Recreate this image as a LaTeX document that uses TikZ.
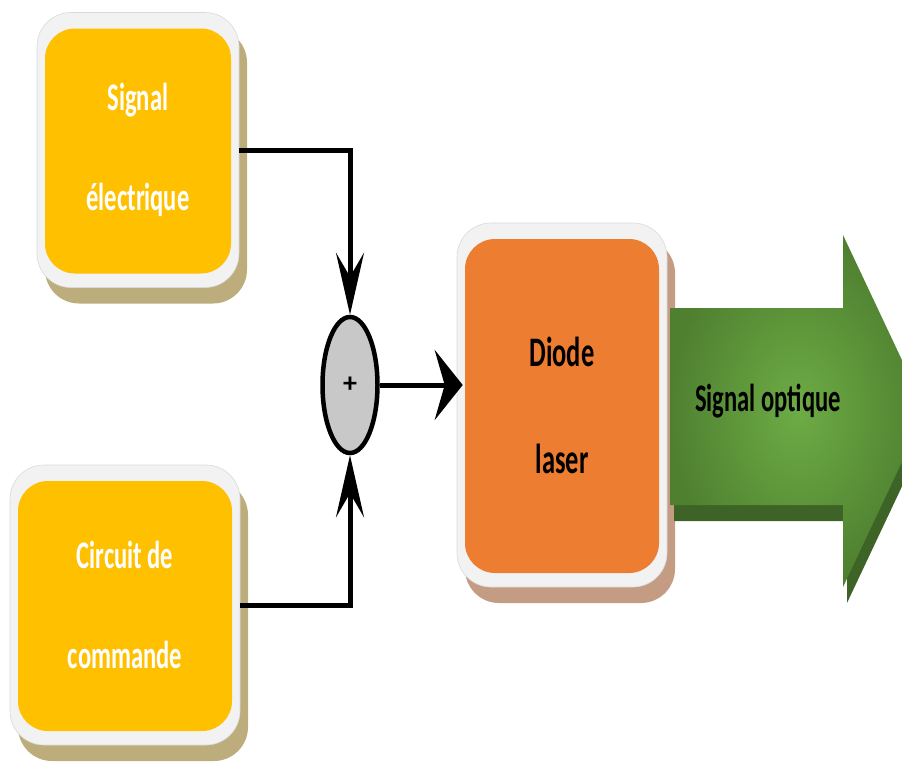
\documentclass[tikz,border=0pt]{standalone}
\usepackage{fontspec}
\setmainfont{Carlito}
\newfontfamily\condfont{Carlito}[FakeStretch=0.63]
\usetikzlibrary{arrows.meta,shapes.geometric,shadows}
\definecolor{boxyellow}{HTML}{FFC000}
\definecolor{boxorange}{HTML}{ED7D31}
\definecolor{rimwhite}{HTML}{F2F2F2}
\definecolor{tanshadow}{HTML}{BDAD7C}
\definecolor{brownshadow}{HTML}{C49C84}
\definecolor{greenlight}{HTML}{6DAC45}
\definecolor{greendark}{HTML}{4F8030}
\definecolor{greenshadow}{HTML}{3D6426}
\definecolor{sumgray}{HTML}{C8C8C8}
\tikzset{
  outerbox/.style 2 args={draw=gray!30, line width=0.6pt, fill=rimwhite,
    rounded corners=34pt, inner sep=0pt,
    drop shadow={shadow xshift=8pt, shadow yshift=-16pt, fill=#2, opacity=1},
    path picture={\fill[#1, rounded corners=30pt]
      ([shift={(8,16)}]path picture bounding box.north west) rectangle
      ([shift={(-8,-14)}]path picture bounding box.south east);}},
  whitetext/.style={text=white, align=center,
    font=\condfont\bfseries\fontsize{39}{100}\selectfont},
  blacktext/.style={text=black, align=center,
    font=\condfont\bfseries\fontsize{42}{107}\selectfont},
  conn/.style={line width=5pt, black},
  vtip/.style={-{Stealth[length=62pt, width=28pt, inset=24pt]}},
  htip/.style={-{Stealth[length=28pt, width=70pt, inset=10pt]}},
  sumnode/.style={ellipse, draw=black, line width=4.5pt, fill=sumgray,
    minimum width=55pt, minimum height=136pt, inner sep=0pt,
    font=\bfseries\fontsize{28}{28}\selectfont}
}
\begin{document}
\begin{tikzpicture}[x=1pt,y=-1pt]
\path[use as bounding box] (0,0) rectangle (902,763);
\clip (0,0) rectangle (902,763);

% top box
\node[outerbox={boxyellow}{tanshadow}, whitetext, minimum width=202pt, minimum height=275pt]
  (sig) at (138,150) {Signal\\électrique};
% bottom box
\node[outerbox={boxyellow}{tanshadow}, whitetext, minimum width=230pt, minimum height=280pt]
  (cmd) at (125,605) {Circuit de\\commande};
% diode box
\node[outerbox={boxorange}{brownshadow}, blacktext, minimum width=210pt, minimum height=364pt]
  (diode) at (562,405) {Diode\\laser};

% summing junction
\node[sumnode] (sum) at (350,385) {+};

% connectors
\draw[conn, vtip] (sig.east) -| (sum.north);
\draw[conn, vtip] (cmd.east) -| (sum.south);
\draw[conn, htip] (sum.east) -- ([xshift=6pt]sum.east -| diode.west);

% green output arrow
\fill[greenshadow] (674,324) -- (847,324) -- (847,251) -- (930,427) -- (847,603) -- (847,521) -- (674,521) -- cycle;
\shade[inner color=greenlight, outer color=greendark]
  (670,308) -- (843,308) -- (843,235) -- (926,411) -- (843,587) -- (843,505) -- (670,505) -- cycle;
\node[blacktext, font=\condfont\bfseries\fontsize{39}{39}\selectfont] (opt) at (768,401) {Signal optique};
\end{tikzpicture}
\end{document}
